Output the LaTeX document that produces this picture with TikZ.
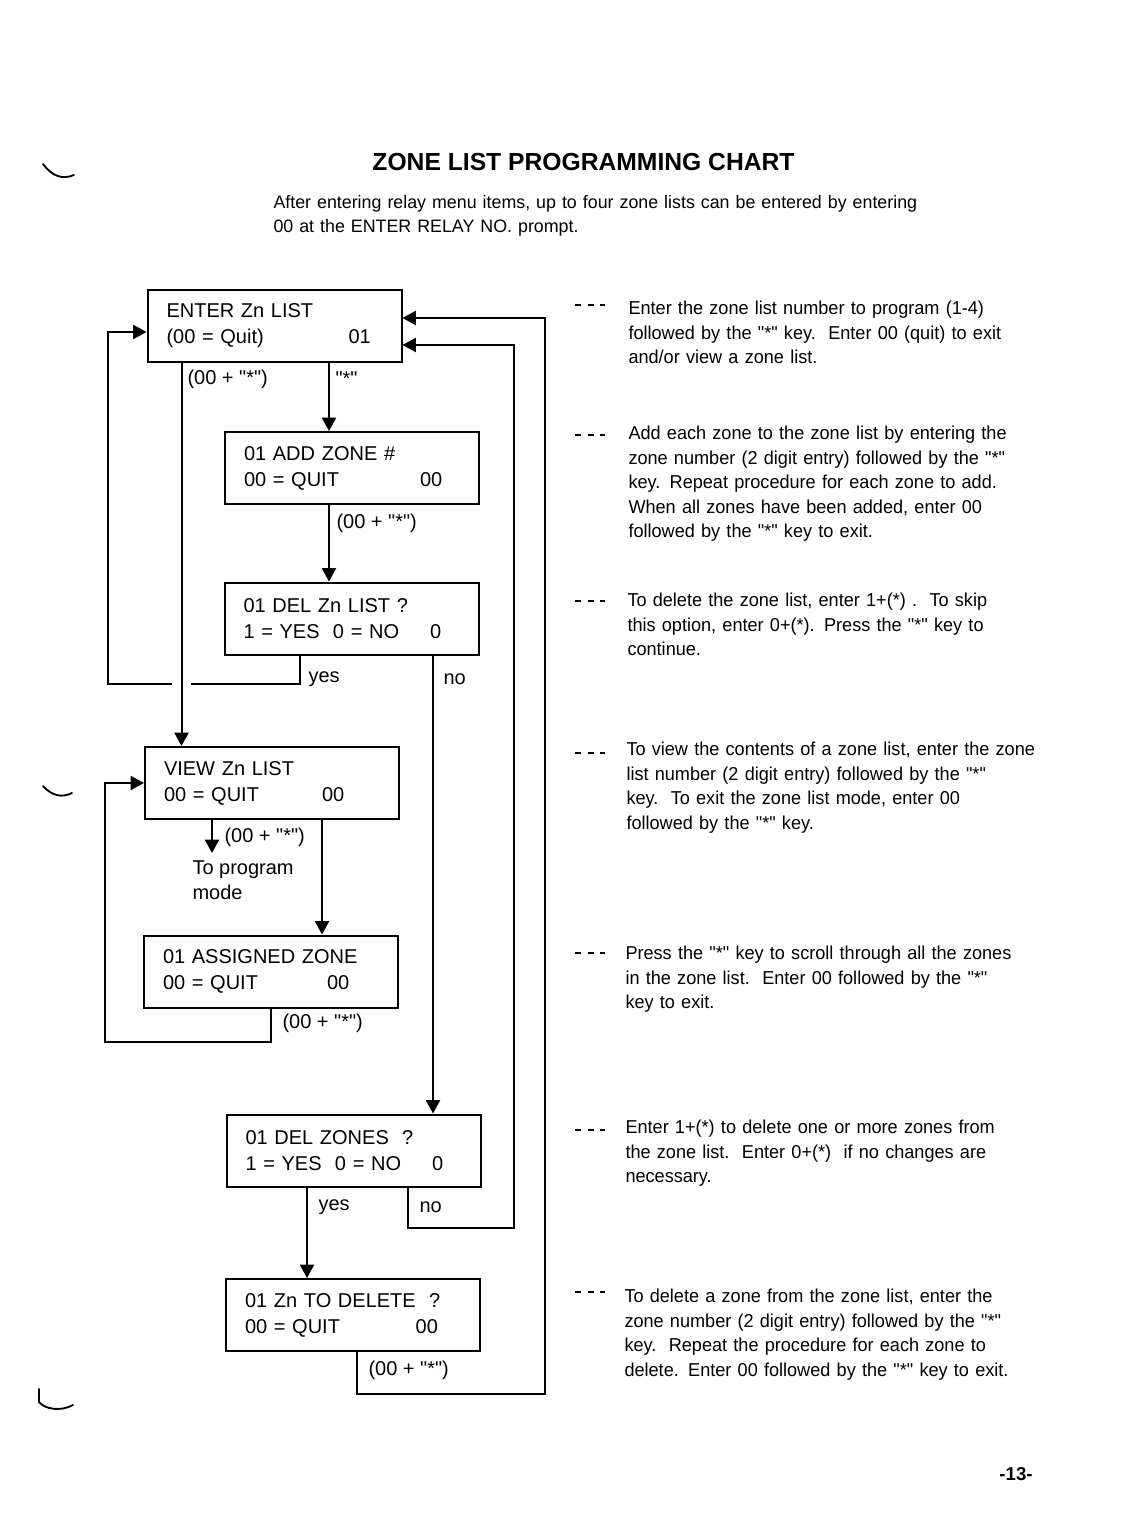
\documentclass[tikz,border=0pt]{standalone}
\usepackage{fontspec}
\setmainfont{Liberation Sans}[Ligatures=TeXOff]
\usetikzlibrary{arrows.meta,calc}
\tikzset{
	zbox/.style={draw, line width=1.5pt, minimum width=190.5pt, minimum height=54pt, text width=162pt, inner xsep=14.25pt, align=left, font=\fontsize{15pt}{19.5pt}\selectfont},
	flow/.style={line width=1.5pt},
	arr/.style={flow, -{Triangle[length=10pt,width=10.5pt]}},
	lbl/.style={anchor=west, inner sep=0pt, font=\fontsize{15pt}{19.5pt}\selectfont},
	note/.style={anchor=base west, inner sep=0pt, text width=330pt, align=left, font=\fontsize{14pt}{18.4pt}\selectfont\addfontfeatures{FakeStretch=0.97}},
	lead/.style={line width=0.9pt, dash pattern=on 4.5pt off 4.9pt},
	punch/.style={line width=1.4pt, line cap=round}}
\tikzset{every picture/.style={line width=0.75pt}}
\newcommand{\val}[2]{\makebox[#1pt][l]{#2}}

\begin{document}
\begin{tikzpicture}[x=0.75pt,y=0.75pt,yscale=-1,xscale=1]
	\useasboundingbox (0,0) rectangle (1120,1526);

	% Title
	\node[font=\bfseries\fontsize{18.5pt}{22pt}\selectfont] (title) at (583.5,162) {ZONE LIST PROGRAMMING CHART};
	\node[note, text width=500pt, font=\fontsize{13.5pt}{18pt}\selectfont\addfontfeatures{FakeStretch=0.99}] (intro) at (273,208.5) {After entering relay menu items, up to four zone lists can be entered by entering\\00 at the ENTER RELAY NO. prompt.};

	% Menu boxes
	\node[zbox] (enter) at (274.5,326) {ENTER Zn LIST\\\val{136.5}{(00 = Quit)}01};
	\node[zbox] (add) at (352,468) {01 ADD ZONE \#\\\val{132}{00 = QUIT}00};
	\node[zbox] (delzl) at (351.5,618.5) {01 DEL Zn LIST ?\\\val{140}{1 = YES\ \ 0 = NO}0};
	\node[zbox] (view) at (272,783) {VIEW Zn LIST\\\val{118.5}{00 = QUIT}00};
	\node[zbox] (assigned) at (271,971.5) {01 ASSIGNED ZONE\\\val{123}{00 = QUIT}00};
	\node[zbox] (delzones) at (353.5,1150.5) {01 DEL ZONES\ \ ?\\\val{140}{1 = YES\ \ 0 = NO}0};
	\node[zbox] (zntd) at (353,1315) {01 Zn TO DELETE\ \ ?\\\val{128}{00 = QUIT}00};

	% Column points
	\coordinate (a1) at ($(enter.south west)+(35,0)$);
	\coordinate (a2) at ($(add.north west)+(105,0)$);
	\coordinate (y1) at ($(delzl.south west)+(76.5,0)$);
	\coordinate (n1) at ($(delzl.south west)+(209.5,0)$);
	\coordinate (pm) at ($(view.south west)+(68,33)$);
	\coordinate (v2) at ($(view.south west)+(178,0)$);
	\coordinate (y2) at ($(delzones.south west)+(81.5,0)$);

	% Connectors
	\draw[arr] (a1) -- (a1 |- view.north);
	\draw[arr] (a2 |- enter.south) -- (a2);
	\draw[arr] (a2 |- add.south) -- (a2 |- delzl.north);
	\draw[flow] (y1) |- ($(a1 |- y1)+(9.5,28)$);
	\draw[arr] ($(a1 |- y1)+(-9.5,28)$) -| ($(enter.west)+(-39,6)$) -- ($(enter.west)+(0,6)$);
	\draw[arr] (n1) -- (n1 |- delzones.north);
	\draw[arr] (pm |- view.south) -- (pm);
	\draw[arr] (v2) -- (v2 |- assigned.north);
	\draw[arr] ($(assigned.south west)+(128,0)$) -- ++(0,33) -| ($(view.west)+(-39,0)$) -- (view.west);
	\draw[arr] (y2) -- (y2 |- zntd.north);
	\draw[arr] ($(delzones.south west)+(182.5,0)$) -- ++(0,40.5) -| ($(enter.east)+(111,19)$) -- ($(enter.east)+(0,19)$);
	\draw[arr] ($(zntd.south west)+(132,0)$) -- ++(0,42) -| ($(enter.east)+(142.5,-8)$) -- ($(enter.east)+(0,-8)$);

	% Connector labels
	\node[lbl] (l1) at (187,379) {(00 + "*")};
	\node[lbl] (l2) at (335,379) {"*"};
	\node[lbl] (l3) at (336,523) {(00 + "*")};
	\node[lbl] (yes1) at (308,679) {yes};
	\node[lbl] (no1) at (443,679) {no};
	\node[lbl] (l4) at (224,837) {(00 + "*")};
	\node[lbl, align=left, font=\fontsize{15pt}{18.75pt}\selectfont] (tomode) at (192,880.5) {To program\\mode};
	\node[lbl] (l5) at (282,1023) {(00 + "*")};
	\node[lbl] (yes2) at (318,1207) {yes};
	\node[lbl] (no2) at (419,1207) {no};
	\node[lbl] (l6) at (368,1370) {(00 + "*")};

	% Notes
	\draw[lead] (575,305) -- (605,305);
	\node[note] (n-enter) at (628,314.7) {Enter the zone list number to program (1-4)\\followed by the "*" key.\ \ Enter 00 (quit) to exit\\and/or view a zone list.};
	\draw[lead] (575,435) -- (605,435);
	\node[note] (n-add) at (628,439.7) {Add each zone to the zone list by entering the\\zone number (2 digit entry) followed by the "*"\\key. Repeat procedure for each zone to add.\\When all zones have been added, enter 00\\followed by the "*" key to exit.};
	\draw[lead] (575,601) -- (605,601);
	\node[note] (n-delzl) at (627,606.7) {To delete the zone list, enter 1+(*) .\ \ To skip\\this option, enter 0+(*). Press the "*" key to\\continue.};
	\draw[lead] (575,753) -- (605,753);
	\node[note] (n-view) at (626,755.7) {To view the contents of a zone list, enter the zone\\list number (2 digit entry) followed by the "*"\\key.\ \ To exit the zone list mode, enter 00\\followed by the "*" key.};
	\draw[lead] (575,953) -- (605,953);
	\node[note] (n-assigned) at (625,959.7) {Press the "*" key to scroll through all the zones\\in the zone list.\ \ Enter 00 followed by the "*"\\key to exit.};
	\draw[lead] (575,1130) -- (605,1130);
	\node[note] (n-delzones) at (625,1133.7) {Enter 1+(*) to delete one or more zones from\\the zone list.\ \ Enter 0+(*)\ \ if no changes are\\necessary.};
	\draw[lead] (575,1292) -- (605,1292);
	\node[note] (n-zntd) at (624,1302.7) {To delete a zone from the zone list, enter the\\zone number (2 digit entry) followed by the "*"\\key.\ \ Repeat the procedure for each zone to\\delete. Enter 00 followed by the "*" key to exit.};

	% Page number
	\node[font=\bfseries\fontsize{14pt}{16pt}\selectfont] (page) at (1016,1474) {-13-};

	% Punch marks
	\draw[punch] (43,164) .. controls (52,176) and (62,180) .. (74,175);
	\draw[punch] (43,786) .. controls (52,796) and (62,798) .. (72,793);
	\draw[punch] (39,1389) -- (39,1402) .. controls (45,1409) and (60,1412) .. (73,1405);
\end{tikzpicture}
\end{document}
